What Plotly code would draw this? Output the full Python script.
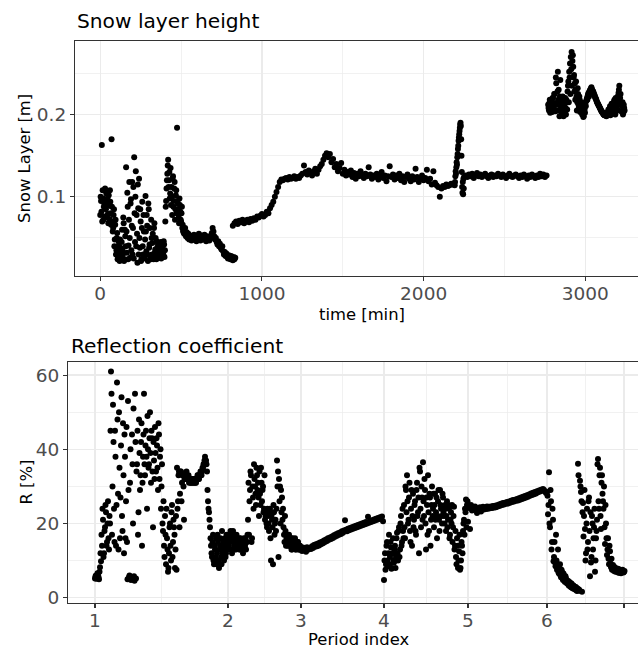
import numpy as np
import plotly.graph_objects as go

# ---------------- data: snow layer height (top panel) ----------------
# runs of regularly sampled readings: start time [min], step [min], heights [m]
snow_run_start = [0, 2.5, 520, 820, 2192, 2260, 2770, 2772.5]
snow_run_step = [5, 5, 5, 10, 2, 10, 5, 5]

snow_A1 = [0.078, 0.095, 0.163, 0.108, 0.072, 0.092, 0.110, 0.085,
           0.075, 0.098, 0.068, 0.089, 0.108, 0.080, 0.170, 0.070,
           0.062, 0.085, 0.048, 0.072, 0.035, 0.056, 0.028, 0.045,
           0.022, 0.038, 0.025, 0.060, 0.030, 0.068, 0.024, 0.052,
           0.136, 0.032, 0.088, 0.041, 0.118, 0.026, 0.097, 0.065,
           0.030, 0.112, 0.148, 0.045, 0.131, 0.078, 0.020, 0.086,
           0.122, 0.038, 0.070, 0.024, 0.094, 0.030, 0.058, 0.026,
           0.101, 0.034, 0.065, 0.022, 0.085, 0.042, 0.028, 0.072,
           0.030, 0.055, 0.024, 0.068, 0.036, 0.028, 0.046, 0.032,
           0.040, 0.026, 0.034, 0.045, 0.028, 0.038, 0.030, 0.042,
           0.035, 0.088, 0.110, 0.128, 0.145, 0.120, 0.098, 0.135,
           0.112, 0.078, 0.125, 0.095, 0.118, 0.085, 0.108, 0.184,
           0.092, 0.075, 0.098, 0.082, 0.070, 0.088, 0.066, 0.060]
snow_A1b = [0.100, 0.082, 0.070, 0.098, 0.088, 0.076, 0.095, 0.104,
            0.090, 0.079, 0.102, 0.073, 0.094, 0.066, 0.088, 0.058,
            0.078, 0.040, 0.066, 0.030, 0.050, 0.024, 0.040, 0.032,
            0.048, 0.028, 0.045, 0.035, 0.075, 0.022, 0.060, 0.040,
            0.058, 0.105, 0.024, 0.072, 0.050, 0.092, 0.035, 0.118,
            0.062, 0.025, 0.080, 0.100, 0.040, 0.055, 0.115, 0.030,
            0.050, 0.085, 0.022, 0.062, 0.040, 0.078, 0.025, 0.048,
            0.058, 0.078, 0.030, 0.092, 0.038, 0.062, 0.024, 0.050,
            0.044, 0.026, 0.062, 0.032, 0.050, 0.024, 0.038, 0.042,
            0.028, 0.036, 0.044, 0.025, 0.040, 0.032, 0.046, 0.027,
            0.070, 0.095, 0.120, 0.138, 0.112, 0.130, 0.104, 0.090,
            0.100, 0.122, 0.088, 0.110, 0.072, 0.102, 0.080, 0.095,
            0.085, 0.068, 0.090, 0.072, 0.080, 0.062, 0.058, 0.056]
snow_A2 = [0.055, 0.062, 0.052, 0.057, 0.050, 0.055, 0.048, 0.053,
           0.050, 0.047, 0.052, 0.049, 0.054, 0.048, 0.051, 0.046,
           0.052, 0.049, 0.055, 0.050, 0.047, 0.053, 0.049, 0.051,
           0.048, 0.054, 0.050, 0.046, 0.052, 0.049, 0.051, 0.047,
           0.052, 0.050, 0.056, 0.062, 0.058, 0.052, 0.048, 0.050,
           0.045, 0.042, 0.046, 0.040, 0.043, 0.038, 0.036, 0.040,
           0.034, 0.030, 0.033, 0.028, 0.031, 0.027, 0.025, 0.029,
           0.026, 0.024, 0.028, 0.025, 0.023, 0.027, 0.024, 0.026]
snow_B = [0.065, 0.068, 0.070, 0.067, 0.071, 0.069, 0.072, 0.068,
          0.070, 0.072, 0.069, 0.073, 0.071, 0.074, 0.072, 0.076,
          0.075, 0.077, 0.079, 0.076, 0.078, 0.082, 0.080, 0.086,
          0.090, 0.094, 0.100, 0.106, 0.112, 0.118, 0.121, 0.120,
          0.122, 0.123, 0.121, 0.124, 0.122, 0.123, 0.125, 0.122,
          0.124, 0.123, 0.126, 0.128, 0.138, 0.130, 0.127, 0.132,
          0.129, 0.126, 0.131, 0.134, 0.128, 0.133, 0.137, 0.140,
          0.145, 0.150, 0.153, 0.148, 0.152, 0.142, 0.146, 0.136,
          0.140, 0.131, 0.135, 0.141, 0.128, 0.133, 0.126, 0.130,
          0.127, 0.132, 0.124, 0.129, 0.122, 0.128, 0.125, 0.131,
          0.126, 0.123, 0.128, 0.125, 0.136, 0.127, 0.122, 0.126,
          0.124, 0.128, 0.121, 0.125, 0.130, 0.123, 0.126, 0.119,
          0.125, 0.137, 0.124, 0.127, 0.121, 0.126, 0.123, 0.128,
          0.120, 0.125, 0.118, 0.124, 0.127, 0.122, 0.119, 0.125,
          0.121, 0.134, 0.124, 0.118, 0.122, 0.126, 0.120, 0.123,
          0.133, 0.119, 0.122, 0.115, 0.131, 0.117, 0.114, 0.112,
          0.100, 0.110, 0.113, 0.112, 0.115, 0.113, 0.114, 0.116,
          0.115]
snow_S = [0.114, 0.118, 0.125, 0.131, 0.128, 0.136, 0.142, 0.139, 0.148, 0.152,
          0.158, 0.162, 0.168, 0.172, 0.176, 0.180, 0.184, 0.188, 0.190, 0.186,
          0.170, 0.150, 0.130, 0.112, 0.105, 0.118, 0.103, 0.122, 0.110, 0.124]
snow_D = [0.126, 0.124, 0.127, 0.125, 0.128, 0.123, 0.126, 0.129, 0.125, 0.127,
          0.124, 0.126, 0.128, 0.125, 0.123, 0.126, 0.127, 0.124, 0.126, 0.125,
          0.128, 0.126, 0.124, 0.127, 0.125, 0.123, 0.126, 0.128, 0.125, 0.124,
          0.126, 0.127, 0.125, 0.123, 0.126, 0.124, 0.127, 0.125, 0.122, 0.126,
          0.124, 0.127, 0.125, 0.123, 0.126, 0.124, 0.128, 0.125, 0.127, 0.124,
          0.126]
snow_C = [0.212, 0.205, 0.218, 0.208, 0.215, 0.203, 0.220, 0.210,
          0.225, 0.204, 0.238, 0.212, 0.252, 0.230, 0.198, 0.242,
          0.215, 0.205, 0.222, 0.198, 0.212, 0.220, 0.200, 0.215,
          0.228, 0.240, 0.252, 0.262, 0.270, 0.276, 0.265, 0.258,
          0.248, 0.238, 0.230, 0.222, 0.215, 0.225, 0.208, 0.218,
          0.205, 0.212, 0.200, 0.210, 0.198, 0.206, 0.212, 0.216,
          0.220, 0.223, 0.226, 0.228, 0.230, 0.232, 0.231, 0.229,
          0.227, 0.224, 0.221, 0.219, 0.216, 0.214, 0.212, 0.210,
          0.208, 0.206, 0.204, 0.203, 0.201, 0.200, 0.199, 0.200,
          0.198, 0.200, 0.199, 0.201, 0.204, 0.199, 0.208, 0.202,
          0.212, 0.205, 0.218, 0.200, 0.215, 0.208, 0.222, 0.226,
          0.235, 0.220, 0.212, 0.204, 0.215, 0.202, 0.208]
snow_Cb = [0.208, 0.214, 0.202, 0.216, 0.206, 0.220, 0.207, 0.225,
           0.214, 0.245, 0.205, 0.228, 0.218, 0.205, 0.222, 0.210,
           0.200, 0.216, 0.205, 0.220, 0.203, 0.208, 0.218, 0.206,
           0.235, 0.215, 0.245, 0.225, 0.255, 0.235, 0.272, 0.245,
           0.228, 0.218, 0.240, 0.205, 0.232, 0.212, 0.222, 0.203,
           0.215, 0.204, 0.208, 0.197, 0.214, 0.202, 0.210, 0.218,
           0.218, 0.225, 0.222, 0.229, 0.228, 0.233, 0.229, 0.228,
           0.225, 0.223, 0.220, 0.218, 0.215, 0.213, 0.211, 0.209,
           0.207, 0.205, 0.203, 0.202, 0.200, 0.199, 0.201, 0.199,
           0.201, 0.203, 0.206, 0.200, 0.210, 0.203, 0.213, 0.206,
           0.204, 0.216, 0.206, 0.220, 0.210, 0.214, 0.205, 0.230,
           0.215, 0.225, 0.204, 0.210, 0.200, 0.212, 0.205]
snow_runs = [snow_A1, snow_A1b, snow_A2, snow_B, snow_S, snow_D, snow_C, snow_Cb]

time_ticks = [0, 1000, 2000, 3000]
time_minor = [500, 1500, 2500]
snow_ticks = [0.1, 0.2]
snow_minor = [0.05, 0.15, 0.25]

# ---------------- data: reflection coefficient (bottom panel) ----------------
period_width = [133, 73, 83, 84, 79, 77]      # samples per period
period_labels = ["1", "2", "3", "4", "5", "6", ""]

R_p1 = [5.2, 6.0, 5.5, 6.4, 5.0, 8.2, 9.8, 14, 21, 12,
        19, 23, 15, 26, 13, 20, 61, 17, 52, 24,
        45, 14, 58, 28, 50, 16, 41, 22, 47, 12,
        38, 26, 15, 53, 5.5, 31, 4.8, 44, 20, 5.8,
        55, 5.2, 36, 17, 48, 29, 42, 14, 38, 55,
        33, 45, 24, 40, 36, 50, 31, 43, 19, 37,
        46, 34, 41, 29, 44, 38, 24, 36, 18, 14,
        22, 9, 16, 7, 12, 20, 10, 25, 15, 19,
        8, 22, 35, 26, 34, 28, 34, 31, 33, 21,
        33, 32, 33, 32, 31, 32, 31, 31, 32, 31,
        32, 31, 32, 33, 32, 33, 34, 34, 35, 36,
        38, 37, 34, 26, 23, 19, 14, 11, 17, 9,
        13, 16, 12, 15, 8, 14, 11, 18, 13, 10, 16, 12, 15]
R_p1b = [5.8, 5.1, 6.6, 5.6, 7.0, 12, 17, 24, 11, 18,
         25, 14, 20, 16, 22, 45, 55, 30, 42, 15,
         38, 25, 48, 13, 35, 27, 54, 18, 33, 44,
         16, 46, 5.0, 29, 6.0, 40, 5.3, 36, 51, 4.6,
         42, 34, 45, 23, 39, 33, 47, 31, 44, 36,
         41, 38, 49, 35, 43, 39, 45, 34, 42, 32,
         39, 43, 35, 47, 32, 40, 30, 20, 26, 11,
         17, 24, 13, 8, 19, 14, 23, 11, 21, 17,
         13, 7.5, 24, 33, 19, 34, 26, 33, 30, 32,
         32, 34, 32, 33, 32, 31, 32, 32, 31, 32,
         31, 32, 33, 32, 33, 34, 33, 35, 36, 37,
         37, 36, 29, 24, 21, 16, 12, 15, 10, 14,
         11, 9, 17, 10, 13, 16, 9, 12, 15, 14, 11, 17, 13]
R_p2 = [15, 17, 13, 16, 12, 18, 14, 16, 13, 15,
        14, 16, 13, 15, 14, 12, 16, 14, 13, 15,
        21, 17, 29, 33, 16, 27, 36, 30, 25, 33,
        31, 22, 28, 35, 26, 30, 24, 21, 23, 19,
        22, 18, 24, 10, 21, 9, 23, 20, 18, 37,
        34, 32, 30, 29, 27, 24, 17, 22, 14, 16,
        15, 17, 14, 16, 13, 15, 14, 16, 13, 14, 15, 13, 14]
R_p2b = [14, 16, 18, 13, 15, 17, 13, 15, 17, 14,
         15, 13, 16, 14, 13, 15, 14, 16, 15, 17,
         31, 26, 34, 15, 30, 24, 32, 28, 35, 29,
         27, 34, 25, 31, 29, 23, 33, 22, 20, 24,
         20, 23, 16, 22, 19, 25, 17, 21, 24, 30,
         11, 26, 20, 23, 21, 19, 15, 18, 16, 14,
         16, 14, 15, 13, 16, 14, 15, 13, 14, 15, 13, 14, 13]
R_p3 = [13.2, 12.6, 13.5, 12.8, 13.3, 12.4, 13.6, 12.9, 13.1, 13.4,
        13.1, 13.9, 13.4, 14.2, 13.7, 14.4, 13.9, 14.6, 14.1, 14.9,
        14.4, 15.1, 14.7, 15.4, 15.0, 15.7, 15.3, 16.0, 15.6, 16.2,
        15.8, 16.5, 16.1, 16.8, 16.4, 17.1, 16.7, 17.4, 17.0, 17.6,
        17.2, 17.9, 17.5, 18.1, 20.9, 18.3, 17.9, 18.6, 18.2, 18.8,
        18.4, 19.0, 18.6, 19.2, 18.8, 19.4, 19.0, 19.6, 19.2, 19.8,
        19.4, 20.0, 19.6, 20.2, 19.8, 20.4, 20.0, 21.8, 20.2, 20.7,
        20.4, 20.9, 20.6, 21.1, 20.8, 21.3, 21.0, 21.5, 21.2, 21.7, 21.4, 21.9, 20.6]
R_p4 = [4.8, 12, 9, 15, 8.5, 17, 11, 13.5, 8, 16,
        9.5, 14, 11, 17.5, 10, 19, 13, 22, 15, 18,
        25, 16, 29, 33, 20, 27, 18, 24, 14, 28,
        21, 26, 17, 31, 23, 12, 34, 19, 27, 36.5,
        22, 29, 13, 25, 33, 18, 27, 21, 30, 24,
        19, 28, 23, 16, 26, 21, 29, 24, 20, 27,
        22, 25, 18, 26, 21, 24, 17, 23, 25, 19,
        24.5, 14, 11, 16, 8, 12.5, 7.5, 10, 14, 18,
        21, 24, 26.5, 25]
R_p4b = [10, 7.5, 14, 10, 12, 9, 15, 7.8, 12, 10,
         13, 8, 16, 12, 18, 11, 20, 14, 24, 16,
         19, 30, 23, 26, 21, 31, 15, 29, 22, 19,
         25, 18, 29, 22, 27, 35, 24, 30, 21, 26,
         32, 20, 27, 17, 23, 28, 14, 25, 22, 28,
         25, 21, 27, 22, 29, 18, 25, 22, 28, 23,
         20, 24, 22, 19, 25, 16, 21, 20, 15, 22,
         13, 18, 9, 14, 10, 17, 8, 15, 12, 20,
         17, 23, 19, 26]
R_p5 = [20.5, 24.2, 18.5, 25.0, 23.5, 24.4, 23.8, 24.6, 23.9, 22.8,
        24.1, 23.7, 24.4, 23.2, 24.0, 24.5, 23.8, 24.3, 23.9, 24.6,
        24.0, 24.5, 24.1, 24.6, 24.2, 24.7, 24.3, 24.8, 24.4, 24.9,
        24.6, 25.1, 24.8, 25.3, 25.0, 25.5, 25.1, 25.6, 25.3, 25.8,
        25.4, 25.9, 25.6, 26.1, 25.8, 26.3, 25.9, 26.4, 26.1, 26.6,
        26.2, 26.8, 26.4, 27.0, 26.6, 27.2, 26.8, 27.4, 27.0, 27.6,
        27.2, 27.8, 27.5, 28.1, 27.7, 28.3, 27.9, 28.5, 28.1, 28.7,
        28.4, 28.9, 28.6, 29.1, 28.8, 29.3, 29.0, 28.6, 28.2]
R_p6 = [28.5, 22.5, 33.8, 19, 26, 15, 21, 11, 9.5, 17,
        7.5, 13, 6.5, 9, 5.5, 7, 4.8, 6, 4.2, 5.2,
        3.8, 4.6, 3.2, 4.0, 2.8, 3.5, 2.5, 3.0, 2.2, 2.8,
        1.8, 36.1, 2.2, 31.5, 28.5, 1.6, 25.5, 22, 18.5, 12,
        24, 15, 27, 5.8, 9.5, 22, 13, 19, 7, 16,
        21, 37.4, 24, 35, 18.5, 33, 26, 30, 14.5, 20,
        11.5, 16, 9, 12.5, 8.2, 7.5, 8.8, 7.2, 8.0, 7.4,
        7.0, 7.8, 6.8, 7.4, 6.6, 7.2, 6.9, 7.0]
R_p6b = [27.5, 25, 20, 29, 13, 24, 9.8, 15, 8.5, 10,
         9, 6.8, 8, 6, 7.5, 5.2, 6.5, 4.5, 5.8, 4.4,
         4.3, 3.5, 4.2, 3.0, 3.8, 2.6, 3.3, 2.4, 2.9, 2.0,
         2.5, 33, 1.9, 30, 26, 23, 16.5, 29, 10, 20,
         13, 26, 18, 23, 11, 20, 16, 24, 10, 18,
         36, 26, 33, 22, 31, 28, 24, 19, 25, 16,
         13, 10.5, 14, 9.2, 10.5, 8.4, 7.6, 8.3, 7.0, 7.9,
         7.3, 6.7, 7.6, 7.1, 6.9, 7.5, 6.8, 7.2]
# runs: (period number, offset within sample step, readings)
R_run_period = [0, 0, 1, 1, 2, 3, 3, 4, 5, 5]
R_run_offset = [0, 0.5, 0, 0.5, 0, 0, 0.5, 0, 0, 0.5]
R_runs = [R_p1, R_p1b, R_p2, R_p2b, R_p3, R_p4, R_p4b, R_p5, R_p6, R_p6b]
R_ticks = [0, 20, 40, 60]
R_minor = [10, 30, 50]

# ---------------- assemble ----------------
time_min = np.concatenate([s + st * np.arange(len(v)) for s, st, v in
                           zip(snow_run_start, snow_run_step, snow_runs)])
snow_m = np.concatenate([np.asarray(v, float) for v in snow_runs])

period_start = np.concatenate([[0], np.cumsum(period_width)])
sample_x = np.concatenate([period_start[p] + off + np.arange(len(v))
                           for p, off, v in zip(R_run_period, R_run_offset, R_runs)])
R_all = np.concatenate([np.asarray(v, float) for v in R_runs])
period_tickvals = [float(v) for v in period_start]
period_minor = [(a + b) / 2 for a, b in zip(period_tickvals[:-1], period_tickvals[1:])]

W, H = 638, 651
FONT = "DejaVu Sans"
GRID = "#EBEBEB"
LINE = "#333333"


def fx(px):
    return px / W


def fy(py):
    return 1 - py / H


fig = go.Figure()
mk = dict(color="black", size=6, line=dict(width=0))
fig.add_trace(go.Scatter(x=time_min, y=snow_m, mode="markers", marker=mk,
                         xaxis="x", yaxis="y", hoverinfo="skip"))
fig.add_trace(go.Scatter(x=sample_x, y=R_all, mode="markers", marker=mk,
                         xaxis="x2", yaxis="y2", hoverinfo="skip"))

common = dict(showline=True, linecolor=LINE, linewidth=1.1, ticks="outside",
              ticklen=4, tickwidth=1.1, tickcolor=LINE, showgrid=True,
              gridcolor=GRID, gridwidth=1.3, zeroline=False, automargin=False,
              fixedrange=True,
              tickfont=dict(family=FONT, size=18.5, color="#4D4D4D"))


def minor(vals):
    return dict(tickvals=vals, showgrid=True, gridcolor=GRID, gridwidth=0.7,
                ticks="")


fig.update_layout(
    width=W, height=H, margin=dict(l=0, r=0, t=0, b=0),
    paper_bgcolor="white", plot_bgcolor="white", showlegend=False,
    xaxis=dict(domain=[fx(75), 1], range=[-156, 3325.5], anchor="y",
               tickvals=time_ticks, ticktext=[str(t) for t in time_ticks],
               minor=minor(time_minor), mirror=True, ticklabelstandoff=-3,
               **common),
    yaxis=dict(domain=[fy(276), fy(41)], range=[0.0038, 0.2893], anchor="x",
               tickvals=snow_ticks, ticktext=["0.1", "0.2"],
               minor=minor(snow_minor), **common),
    xaxis2=dict(domain=[fx(68), 1], range=[-27, 543], anchor="y2",
                tickvals=period_tickvals, ticktext=period_labels,
                minor=minor(period_minor), mirror=True, ticklabelstandoff=-3,
                **common),
    yaxis2=dict(domain=[fy(603), fy(362)], range=[-1.43, 63.53], anchor="x2",
                tickvals=R_ticks, ticktext=[str(v) for v in R_ticks],
                minor=minor(R_minor), **common),
)

tf = dict(family=FONT, color="black")
anns = [
    dict(text="Snow layer height", x=fx(75), y=fy(21.3), xanchor="left",
         yanchor="middle", font=dict(size=20.2, **tf)),
    dict(text="Reflection coefficient", x=fx(69), y=fy(346), xanchor="left",
         yanchor="middle", font=dict(size=20.2, **tf)),
    dict(text="Snow Layer [m]", x=fx(24.4), y=fy(158.5), textangle=-90,
         xanchor="center", yanchor="middle", font=dict(size=16.4, **tf)),
    dict(text="R [%]", x=fx(26.1), y=fy(482.5), textangle=-90,
         xanchor="center", yanchor="middle", font=dict(size=16.4, **tf)),
    dict(text="time [min]", x=fx(362), y=fy(314.4), xanchor="center",
         yanchor="middle", font=dict(size=16.4, **tf)),
    dict(text="Period index", x=fx(358.5), y=fy(639.4), xanchor="center",
         yanchor="middle", font=dict(size=16.4, **tf)),
]
for a in anns:
    a.update(xref="paper", yref="paper", showarrow=False)
fig.update_layout(annotations=anns)

# the page's default body margin would offset the 638x651 figure; remove it
fig.write_html("out.html",
               config={"displayModeBar": False, "staticPlot": True},
               post_script="document.body.style.margin='0';"
                           "document.documentElement.style.overflow='hidden';")
